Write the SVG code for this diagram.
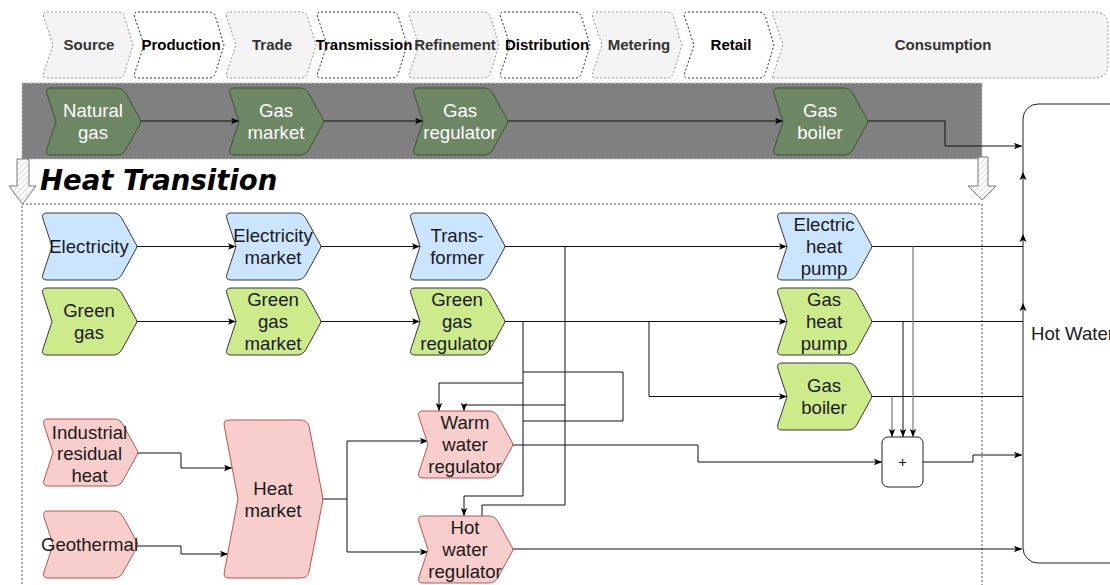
<svg xmlns="http://www.w3.org/2000/svg" xmlns:xlink="http://www.w3.org/1999/xlink" width="1110" height="585" viewBox="0 0 1110 585">
<style>
.hg{fill:#f4f4f4;stroke:#9a9a9a;stroke-width:1;stroke-dasharray:2,2}
.hw{fill:#fff;stroke:#333;stroke-width:1;stroke-dasharray:2,2}
.ht{font-family:"Liberation Sans",Arial,sans-serif;font-weight:bold;font-size:15px;text-anchor:middle}
.htg{fill:#333}
.htw{fill:#000}
.dg{fill:#6d8764;stroke:#3a5431;stroke-width:1}
.bl{fill:#cce5ff;stroke:#36393d;stroke-width:1}
.lg{fill:#cdeb8b;stroke:#36393d;stroke-width:1}
.pk{fill:#f8cecc;stroke:#b85450;stroke-width:1}
.nt{font-family:"Liberation Sans",Arial,sans-serif;font-size:18.6px;text-anchor:middle;fill:#1a1a1a}
.nw{fill:#fff}
.c{fill:none;stroke:#111;stroke-width:1}
.cg{fill:none;stroke:#808080;stroke-width:1.3}
.ca{marker-end:url(#ah)}
</style>
<defs>
<marker id="ah" markerWidth="8" markerHeight="8" viewBox="0 0 8 8" refX="8" refY="4" orient="auto" markerUnits="userSpaceOnUse"><path d="M0,0.8 L8,4 L0,7.2 L1.8,4 Z" fill="#000"/></marker>
<pattern id="hatch" width="4" height="4" patternUnits="userSpaceOnUse" patternTransform="rotate(45)"><rect width="4" height="4" fill="#fff"/><line x1="0" y1="0" x2="0" y2="4" stroke="#cfcfcf" stroke-width="1.5"/></pattern>
<path id="chev" d="M6,0 L72,0 Q78,0 81.2,6 L95.4,31.8 Q96,33.5 95.4,35.2 L81.2,61 Q78,67 72,67 L6,67 Q0,67 2,61 L11,33.5 L2,6 Q0,0 6,0 Z"/>
<path id="hchev" d="M5,0 L76,0 Q81,0 82.5,5 L91,33 L82.5,61 Q81,66 76,66 L5,66 Q0,66 1.7,61 L11,33 L1.7,5 Q0,0 5,0 Z"/>
</defs>
<rect width="1110" height="585" fill="#fff"/>

<g id="header">
<use href="#hchev" x="42" y="12" class="hg"/>
<use href="#hchev" x="133" y="12" class="hw"/>
<use href="#hchev" x="225" y="12" class="hg"/>
<use href="#hchev" x="316" y="12" class="hw"/>
<use href="#hchev" x="408" y="12" class="hg"/>
<use href="#hchev" x="499" y="12" class="hw"/>
<use href="#hchev" x="591" y="12" class="hg"/>
<use href="#hchev" x="683" y="12" class="hw"/>
<path class="hg" d="M772,12 L1094,12 Q1108,12 1108,26 L1108,64 Q1108,78 1094,78 L772,78 L783,45 Z"/>
<text class="ht htg" x="89" y="50">Source</text>
<text class="ht htw" x="181" y="50">Production</text>
<text class="ht htg" x="272" y="50">Trade</text>
<text class="ht htw" x="364" y="50">Transmission</text>
<text class="ht htg" x="455" y="50">Refinement</text>
<text class="ht htw" x="547" y="50">Distribution</text>
<text class="ht htg" x="639" y="50">Metering</text>
<text class="ht htw" x="731" y="50">Retail</text>
<text class="ht htg" x="943" y="50">Consumption</text>
</g>

<g id="gas-band">
<rect x="22" y="83" width="960" height="76" fill="#808080" stroke="#c8c8c8" stroke-dasharray="2,2"/>
</g>

<g id="heat-transition-frame">
<rect x="22" y="204" width="960" height="420" fill="none" stroke="#555" stroke-dasharray="2,2"/>
<text x="40" y="190" font-family="'DejaVu Sans',Verdana,sans-serif" font-weight="bold" font-style="italic" font-size="27.5" fill="#000">Heat Transition</text>
</g>

<g id="transition-arrows">
<polygon points="17,159 29,159 29,186 36,186 22.5,204 9,186 17,186" fill="url(#hatch)" stroke="#777"/>
<polygon points="978,157 988,157 988,186 996,186 982,200 968,186 978,186" fill="url(#hatch)" stroke="#777"/>
</g>

<g id="hot-water">
<rect x="1023" y="104" width="130" height="459" rx="15" fill="#fff" stroke="#222"/>
<text class="nt" x="1031" y="340" style="text-anchor:start">Hot Water</text>
</g>

<g id="connectors">
<path class="c ca" d="M141,121 H239"/>
<path class="c ca" d="M324,121 H423"/>
<path class="c ca" d="M508,121 H783"/>
<path class="c ca" d="M868,121 H945 V146 H1022"/>

<path class="c ca" d="M137,246.5 H236"/>
<path class="c ca" d="M321,246.5 H420"/>
<path class="c ca" d="M505,246.5 H787"/>
<path class="c" d="M565,246.5 V505 H482 V516"/>
<path class="c ca" d="M565,405 H464 V411"/>

<path class="c ca" d="M137,321.5 H236"/>
<path class="c ca" d="M321,321.5 H420"/>
<path class="c ca" d="M505,321.5 H787"/>
<path class="c ca" d="M649,321.5 V396.5 H787"/>
<path class="c ca" d="M523,321.5 V496 H464 V516"/>
<path class="c ca" d="M523,383 H439 V411"/>
<path class="c" d="M523,372 H623 V421 H523"/>

<path class="c ca" d="M137,453 H181 V468 H232"/>
<path class="c ca" d="M137,546 H181 V554 H228"/>
<path class="c" d="M323,499 H347"/>
<path class="c ca" d="M347,552 V441 H428"/>
<path class="c ca" d="M347,552 H428"/>

<path class="c ca" d="M513,445 H698 V462 H882"/>
<path class="c ca" d="M923,462 H973 V455 H1022"/>
<path class="c ca" d="M513,549 H1022"/>

<path class="c" d="M872,246.5 H1023"/>
<path class="c" d="M872,321.5 H1023"/>
<path class="c" d="M872,396.5 H1023"/>
<path class="cg ca" d="M913,246.5 V437"/>
<path class="c ca" d="M903,321.5 V437"/>
<path class="cg ca" d="M892,396.5 V437"/>
<path d="M1023,172 L1026.5,180 L1023,178 L1019.5,180 Z" fill="#000"/>
<path d="M1023,234 L1026.5,242 L1023,240 L1019.5,242 Z" fill="#000"/>
<path d="M1023,303 L1026.5,311 L1023,309 L1019.5,311 Z" fill="#000"/>
</g>

<g id="natural-gas"><use href="#chev" x="45" y="88" class="dg"/><text class="nt nw" x="93" y="117">Natural</text><text class="nt nw" x="93" y="139">gas</text></g>
<g id="gas-market"><use href="#chev" x="228" y="88" class="dg"/><text class="nt nw" x="276" y="117">Gas</text><text class="nt nw" x="276" y="139">market</text></g>
<g id="gas-regulator"><use href="#chev" x="412" y="88" class="dg"/><text class="nt nw" x="460" y="117">Gas</text><text class="nt nw" x="460" y="139">regulator</text></g>
<g id="gas-boiler-old"><use href="#chev" x="772" y="88" class="dg"/><text class="nt nw" x="820" y="117">Gas</text><text class="nt nw" x="820" y="139">boiler</text></g>

<g id="electricity"><use href="#chev" x="41" y="213" class="bl"/><text class="nt" x="89" y="253">Electricity</text></g>
<g id="electricity-market"><use href="#chev" x="225" y="213" class="bl"/><text class="nt" x="273" y="242">Electricity</text><text class="nt" x="273" y="264">market</text></g>
<g id="transformer"><use href="#chev" x="409" y="213" class="bl"/><text class="nt" x="457" y="242">Trans-</text><text class="nt" x="457" y="264">former</text></g>
<g id="electric-heat-pump"><use href="#chev" x="776" y="213" class="bl"/><text class="nt" x="824" y="231">Electric</text><text class="nt" x="824" y="253">heat</text><text class="nt" x="824" y="275">pump</text></g>

<g id="green-gas"><use href="#chev" x="41" y="288" class="lg"/><text class="nt" x="89" y="317">Green</text><text class="nt" x="89" y="339">gas</text></g>
<g id="green-gas-market"><use href="#chev" x="225" y="288" class="lg"/><text class="nt" x="273" y="306">Green</text><text class="nt" x="273" y="328">gas</text><text class="nt" x="273" y="350">market</text></g>
<g id="green-gas-regulator"><use href="#chev" x="409" y="288" class="lg"/><text class="nt" x="457" y="306">Green</text><text class="nt" x="457" y="328">gas</text><text class="nt" x="457" y="350">regulator</text></g>
<g id="gas-heat-pump"><use href="#chev" x="776" y="288" class="lg"/><text class="nt" x="824" y="306">Gas</text><text class="nt" x="824" y="328">heat</text><text class="nt" x="824" y="350">pump</text></g>
<g id="gas-boiler"><use href="#chev" x="776" y="363" class="lg"/><text class="nt" x="824" y="392">Gas</text><text class="nt" x="824" y="414">boiler</text></g>

<g id="industrial-residual-heat"><use href="#chev" x="42" y="419" class="pk"/><text class="nt" x="89.5" y="438.5">Industrial</text><text class="nt" x="89.5" y="459.5">residual</text><text class="nt" x="89.5" y="481.5">heat</text></g>
<g id="geothermal"><use href="#chev" x="42" y="511" class="pk"/><text class="nt" x="89.5" y="551">Geothermal</text></g>
<g id="heat-market"><path class="pk" d="M229,420 L301,420 Q307,420 309,426 L322.5,496 Q323,499 322.5,502 L309,572 Q307,578 301,578 L229,578 Q223,578 224.3,572 L238,499 L224.3,426 Q223,420 229,420 Z"/><text class="nt" x="273" y="494.5">Heat</text><text class="nt" x="273" y="516.5">market</text></g>
<g id="warm-water-regulator"><use href="#chev" x="417" y="411" class="pk"/><text class="nt" x="465" y="429">Warm</text><text class="nt" x="465" y="451">water</text><text class="nt" x="465" y="473">regulator</text></g>
<g id="hot-water-regulator"><use href="#chev" x="417" y="516" class="pk"/><text class="nt" x="465" y="534">Hot</text><text class="nt" x="465" y="556">water</text><text class="nt" x="465" y="578">regulator</text></g>
<g id="plus"><rect x="882" y="437" width="41" height="50" rx="6" fill="#fff" stroke="#222"/><text x="902.5" y="467" font-family="'Liberation Sans',Arial,sans-serif" font-size="14" text-anchor="middle" fill="#000">+</text></g>
</svg>
